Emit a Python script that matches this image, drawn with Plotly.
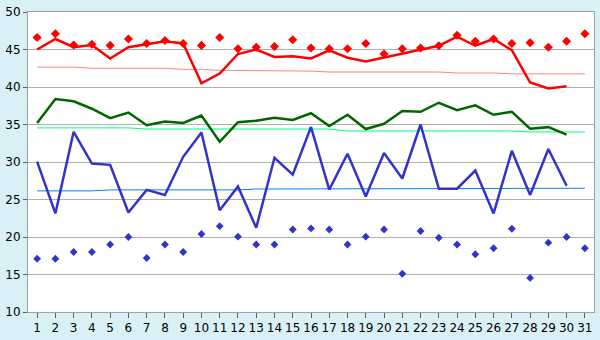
import plotly.graph_objects as go

days = list(range(1, 32))
days30 = list(range(1, 31))

red_line = [45.0, 46.4, 45.3, 45.6, 43.8, 45.3, 45.7, 46.1, 45.8, 40.5, 41.8, 44.4, 45.0, 44.0, 44.1,
            43.8, 44.9, 43.9, 43.4, 43.9, 44.4, 45.0, 45.5, 46.7, 45.5, 46.4, 44.9, 40.6, 39.8, 40.1]
red_pts = [46.6, 47.1, 45.6, 45.7, 45.55, 46.4, 45.8, 46.2, 45.8, 45.55, 46.6, 45.1, 45.3, 45.4, 46.3,
           45.2, 45.1, 45.1, 45.8, 44.4, 45.1, 45.2, 45.5, 46.9, 46.1, 46.4, 45.8, 45.9, 45.3, 46.1, 47.1]
red_avg = [42.65]*3 + [42.5]*5 + [42.35]*2 + [42.22]*3 + [42.12]*3 + [42.0]*7 + [41.87]*3 + [41.75]*5

green_line = [35.2, 38.4, 38.1, 37.1, 35.85, 36.6, 34.9, 35.4, 35.2, 36.2, 32.7, 35.3, 35.5, 35.9, 35.6,
              36.5, 34.8, 36.3, 34.4, 35.1, 36.8, 36.7, 37.9, 36.9, 37.55, 36.3, 36.7, 34.45, 34.65, 33.65]
green_avg = [34.55]*6 + [34.4]*11 + [34.13]*10 + [34.0]*4

blue_line = [30.05, 23.14, 34.03, 29.8, 29.62, 23.27, 26.28, 25.6, 30.69, 33.94, 23.57, 26.74, 21.23, 30.56,
             28.31, 34.66, 26.32, 31.1, 25.39, 31.19, 27.8, 35.0, 26.44, 26.44, 28.86, 23.14, 31.49, 25.6,
             31.74, 26.83]
blue_pts = [17.1, 17.1, 18.0, 18.0, 19.0, 20.0, 17.2, 19.0, 18.0, 20.4, 21.45, 20.05, 19.0, 19.0, 21.0,
            21.15, 21.0, 19.0, 20.05, 21.0, 15.1, 20.8, 19.9, 19.0, 17.7, 18.5, 21.1, 14.55, 19.25, 20.0, 18.5]
blue_avg = [26.15]*4 + [26.28]*8 + [26.4]*7 + [26.5]*12

fig = go.Figure()
# average lines
fig.add_trace(go.Scatter(x=days, y=red_avg, mode="lines", line=dict(color="#FF8080", width=1)))
fig.add_trace(go.Scatter(x=days, y=green_avg, mode="lines", line=dict(color="#00FF80", width=1)))
fig.add_trace(go.Scatter(x=days, y=blue_avg, mode="lines", line=dict(color="#0080FF", width=1)))
# main lines
fig.add_trace(go.Scatter(x=days30, y=red_line, mode="lines", line=dict(color="#FF0000", width=2.5)))
fig.add_trace(go.Scatter(x=days30, y=green_line, mode="lines", line=dict(color="#006600", width=2.5)))
fig.add_trace(go.Scatter(x=days30, y=blue_line, mode="lines", line=dict(color="#3333CC", width=2.5)))
# markers
fig.add_trace(go.Scatter(x=days, y=red_pts, mode="markers",
                         marker=dict(symbol="diamond", size=7, color="#FF0000")))
fig.add_trace(go.Scatter(x=days, y=blue_pts, mode="markers",
                         marker=dict(symbol="diamond", size=6, color="#3333CC")))

fig.update_layout(
    width=600, height=340,
    margin=dict(l=20, r=5, t=5, b=20),
    paper_bgcolor="#DAF0F7",
    plot_bgcolor="#FFFFFF",
    showlegend=False,
    font=dict(family="DejaVu Sans", size=12, color="#000000"),
)
fig.update_xaxes(
    range=[0.5, 31.5], tickvals=days, ticktext=[str(d) for d in days],
    showgrid=False, zeroline=False,
    showline=True, linecolor="#A0A0A0", linewidth=1, mirror=True,
    ticks="outside", ticklen=5, tickcolor="#606060",
)
fig.update_yaxes(
    range=[10, 50], dtick=5,
    showgrid=True, gridcolor="#B0B0B0", gridwidth=1, zeroline=False,
    showline=True, linecolor="#A0A0A0", linewidth=1, mirror=True,
    ticks="outside", ticklen=4, tickcolor="#606060",
    ticklabeloverflow="allow",
)

fig.write_html("out.html")
